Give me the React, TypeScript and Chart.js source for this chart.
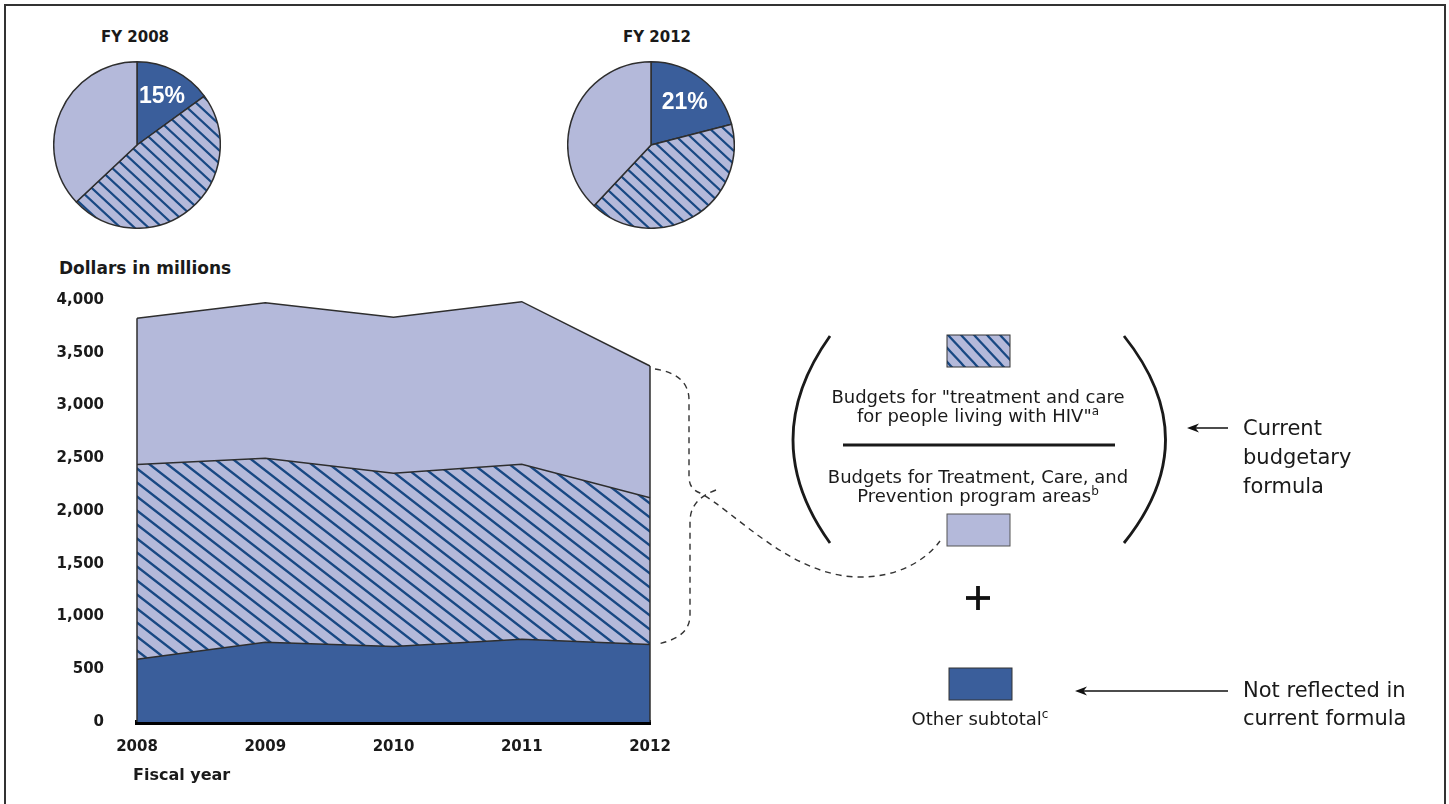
import React, { useEffect, useRef } from "react";
import { Chart, registerables } from "chart.js";

Chart.register(...registerables);

// ---------- data ----------
const years = ["2008", "2009", "2010", "2011", "2012"];
const otherSubtotal = [595, 755, 715, 785, 735];
const treatmentCareHIV = [1845, 1745, 1643, 1658, 1390];
const remainingTCP = [1386, 1474, 1478, 1541, 1249];
const yMin = 0;
const yMax = 4000;
const yStep = 500;

const pieSliceLabels = ["Other subtotal", "Treatment and care for people living with HIV", "Other Treatment, Care, and Prevention"];
const pie2008 = [15, 48, 37];
const pie2012 = [21, 41, 38];
const pieTitles = ["FY 2008", "FY 2012"];

// ---------- styles ----------
const DARK = "#3a5e9b";
const LIGHT = "#b4b9da";
const HATCH = "#184883";
const OUTLINE = "#2e2e2e";
const TEXT = "#1a1a1a";
const FONT = "'DejaVu Sans', 'Liberation Sans', sans-serif";

function makeHatch(w: number, h: number, lw: number): CanvasPattern {
  const c = document.createElement("canvas");
  c.width = w;
  c.height = h;
  const ctx = c.getContext("2d")!;
  ctx.fillStyle = LIGHT;
  ctx.fillRect(0, 0, w, h);
  ctx.strokeStyle = HATCH;
  ctx.lineWidth = lw;
  ctx.beginPath();
  for (const k of [-1, 0, 1]) {
    ctx.moveTo(k * w - w * 0.2, -h * 0.2);
    ctx.lineTo(k * w + w * 1.2, h * 1.2);
  }
  ctx.stroke();
  return ctx.createPattern(c, "repeat")!;
}

const edgePlugin = {
  id: "edges",
  afterDatasetsDraw(chart: any) {
    const { ctx, scales } = chart;
    const x = scales.x;
    const y = scales.y;
    ctx.save();
    ctx.strokeStyle = OUTLINE;
    ctx.lineWidth = 1.5;
    for (const i of [0, years.length - 1]) {
      const total = otherSubtotal[i] + treatmentCareHIV[i] + remainingTCP[i];
      const px = x.getPixelForValue(i);
      ctx.beginPath();
      ctx.moveTo(px, y.getPixelForValue(0));
      ctx.lineTo(px, y.getPixelForValue(total));
      ctx.stroke();
    }
    ctx.restore();
  },
};

function AreaChart() {
  const ref = useRef<HTMLCanvasElement>(null);
  useEffect(() => {
    const hatch = makeHatch(18, 14, 2.4);
    const tickFont = { family: FONT, size: 15, weight: "bold" as const };
    const chart = new Chart(ref.current!, {
      type: "line",
      data: {
        labels: years,
        datasets: [
          { label: "Other subtotal", data: otherSubtotal, backgroundColor: DARK, borderColor: OUTLINE, borderWidth: 1.5, fill: "origin", pointRadius: 0, tension: 0 },
          { label: "Treatment and care for people living with HIV", data: treatmentCareHIV, backgroundColor: hatch, borderColor: OUTLINE, borderWidth: 1.5, fill: "-1", pointRadius: 0, tension: 0 },
          { label: "Other Treatment, Care, and Prevention", data: remainingTCP, backgroundColor: LIGHT, borderColor: OUTLINE, borderWidth: 1.5, fill: "-1", pointRadius: 0, tension: 0 },
        ],
      },
      options: {
        animation: false,
        responsive: false,
        layout: { padding: { top: 50, right: 70, left: 0, bottom: 0 } },
        plugins: { legend: { display: false }, tooltip: { enabled: false } },
        scales: {
          x: {
            grid: { display: false, drawTicks: false },
            border: { display: true, color: "#000", width: 5 },
            ticks: { font: tickFont, color: TEXT, padding: 16, maxRotation: 0, autoSkip: false },
            afterFit: (s: any) => { s.height = 78; },
          },
          y: {
            stacked: true,
            min: yMin,
            max: yMax,
            grid: { display: false, drawTicks: false },
            border: { display: false },
            ticks: {
              stepSize: yStep,
              font: tickFont,
              color: TEXT,
              padding: 33,
              callback: (v: any) => Number(v).toLocaleString("en-US"),
            },
            afterFit: (s: any) => { s.width = 137; },
          },
        },
      },
      plugins: [edgePlugin],
    });
    return () => chart.destroy();
  }, []);
  return (
    <canvas ref={ref} width={720} height={550} style={{ position: "absolute", left: 0, top: 250, width: 720, height: 550 }} />
  );
}

function PieChart({ values, left, top }: { values: number[]; left: number; top: number }) {
  const ref = useRef<HTMLCanvasElement>(null);
  useEffect(() => {
    const hatch = makeHatch(14, 13, 2.2);
    const pctPlugin = {
      id: "pct",
      afterDatasetsDraw(chart: any) {
        const arc = chart.getDatasetMeta(0).data[0];
        const p = arc.getProps(["x", "y", "startAngle", "endAngle", "outerRadius"]);
        const mid = (p.startAngle + p.endAngle) / 2;
        const r = p.outerRadius * 0.66;
        const ctx = chart.ctx;
        ctx.save();
        ctx.fillStyle = "#ffffff";
        ctx.font = "bold 23px 'Liberation Sans', Arial, sans-serif";
        ctx.textAlign = "center";
        ctx.textBaseline = "middle";
        const dx = Math.cos(mid) * r;
        const dy = Math.sin(mid) * r;
        ctx.fillText(values[0] + "%", p.x + dx, p.y + dy + 1);
        ctx.restore();
      },
    };
    const chart = new Chart(ref.current!, {
      type: "pie",
      data: {
        labels: pieSliceLabels,
        datasets: [{ data: values, backgroundColor: [DARK, hatch, LIGHT], borderColor: OUTLINE, borderWidth: 1.5 }],
      },
      options: {
        animation: false,
        responsive: false,
        layout: { padding: 0 },
        plugins: { legend: { display: false }, tooltip: { enabled: false } },
      },
      plugins: [pctPlugin],
    });
    return () => chart.destroy();
  }, []);
  return <canvas ref={ref} width={168} height={168} style={{ position: "absolute", left, top, width: 168, height: 168 }} />;
}

function Txt(props: { x: number; y: number; size: number; lh?: number; bold?: boolean; center?: boolean; children: React.ReactNode }) {
  const lh = props.lh ?? Math.round(props.size * 1.15);
  return (
    <div
      style={{
        position: "absolute",
        left: props.x,
        top: props.y - lh / 2,
        fontFamily: FONT,
        fontSize: props.size,
        fontWeight: props.bold ? 700 : 400,
        lineHeight: lh + "px",
        color: TEXT,
        whiteSpace: "pre",
        textAlign: props.center ? "center" : "left",
        transform: props.center ? "translateX(-50%)" : undefined,
      }}
    >
      {props.children}
    </div>
  );
}

const Sup = ({ c }: { c: string }) => (
  <span style={{ fontSize: 12, position: "relative", top: -7, lineHeight: 0 }}>{c}</span>
);

export default function App() {
  return (
    <div style={{ position: "absolute", left: 0, top: 0, width: 1449, height: 804, overflow: "hidden", background: "#fff" }}>
      <div style={{ position: "absolute", left: 4, top: 4, width: 1442, height: 900, border: "2px solid #333", boxSizing: "border-box" }} />

      <Txt x={135} y={37} size={15} bold center>{pieTitles[0]}</Txt>
      <Txt x={657} y={37} size={15} bold center>{pieTitles[1]}</Txt>
      <PieChart values={pie2008} left={53} top={61} />
      <PieChart values={pie2012} left={567} top={61} />

      <Txt x={59} y={268} size={17} bold>Dollars in millions</Txt>
      <AreaChart />
      <Txt x={133} y={775} size={16} bold>Fiscal year</Txt>

      <svg width={1449} height={804} style={{ position: "absolute", left: 0, top: 0, pointerEvents: "none" }}>
        <defs>
          <pattern id="hatchL" patternUnits="userSpaceOnUse" width="13" height="14">
            <rect width="13" height="14" fill={LIGHT} />
            <path d="M-3,-3.2 L16,17.2 M-16,-3.2 L3,17.2 M10,-3.2 L29,17.2" stroke={HATCH} strokeWidth="2.2" />
          </pattern>
        </defs>
        {/* dashed brace */}
        <g fill="none" stroke="#333" strokeWidth="1.4" strokeDasharray="6 5">
          <path d="M655 369 C676 372 689 382 689 400 L689 476 C689 486 693 490 700 493 C735 512 790 575 857 577 C898 578 926 560 940 541" />
          <path d="M716 490 C700 496 690 505 690 522 L690 615 C690 630 680 639 658 644" />
        </g>
        {/* parentheses */}
        <path d="M830 336 Q756 440 830 543" fill="none" stroke="#1a1a1a" strokeWidth="2.8" />
        <path d="M1124 336 Q1207 440 1124 543" fill="none" stroke="#1a1a1a" strokeWidth="2.8" />
        <line x1="843" y1="445" x2="1115" y2="445" stroke="#1a1a1a" strokeWidth="2.8" />
        {/* legend boxes */}
        <rect x="947" y="335" width="63" height="32" fill="url(#hatchL)" stroke="#333" strokeWidth="1" />
        <rect x="947" y="514" width="63" height="32" fill={LIGHT} stroke="#555" strokeWidth="1" />
        <rect x="949" y="668" width="63" height="32" fill={DARK} stroke="#333" strokeWidth="1" />
        {/* plus */}
        <line x1="966" y1="598" x2="990" y2="598" stroke="#111" strokeWidth="3.8" />
        <line x1="978" y1="586" x2="978" y2="610" stroke="#111" strokeWidth="3.8" />
        {/* arrows */}
        <line x1="1228" y1="428" x2="1192" y2="428" stroke="#111" strokeWidth="1.4" />
        <path d="M1187 428 L1199 423.5 L1195.5 428 L1199 432.5 Z" fill="#111" />
        <line x1="1228" y1="691" x2="1080" y2="691" stroke="#111" strokeWidth="1.4" />
        <path d="M1075 691 L1087 686.5 L1083.5 691 L1087 695.5 Z" fill="#111" />
      </svg>

      <Txt x={978} y={396} size={18} lh={19} center>
        {"Budgets for \"treatment and care\nfor people living with HIV\""}<Sup c="a" />
      </Txt>
      <Txt x={978} y={476} size={18} lh={19} center>
        {"Budgets for Treatment, Care, and\nPrevention program areas"}<Sup c="b" />
      </Txt>
      <Txt x={980} y={718} size={18} lh={19} center>
        {"Other subtotal"}<Sup c="c" />
      </Txt>
      <Txt x={1243} y={428} size={21} lh={29}>{"Current\nbudgetary\nformula"}</Txt>
      <Txt x={1243} y={690} size={21} lh={28}>{"Not reflected in\ncurrent formula"}</Txt>
    </div>
  );
}
